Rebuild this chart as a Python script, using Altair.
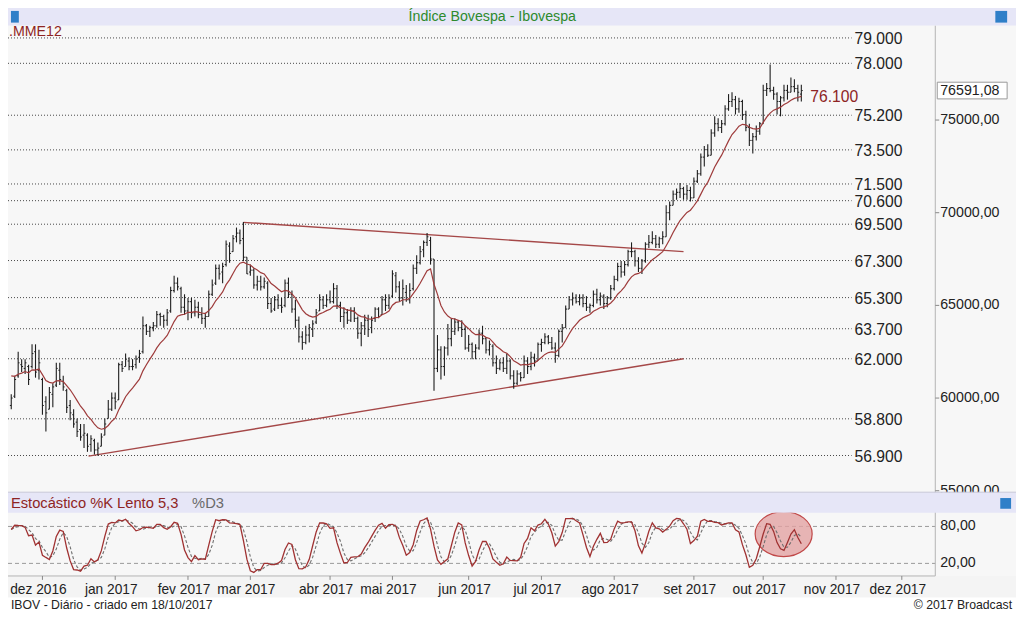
import altair as alt
import pandas as pd

W, H = 1008, 605
SX, SY = W / 1024, H / 621
def X(r): return round(r * SX, 2)
def Y(r): return round(r * SY, 2)
FS = 0.98
FONT = "Liberation Sans"

# ---------------- data (thousands of points), trading day 0 = 18/11/2016 ----------------
opens = [59.6, 60.1, 61.2, 61.8, 61.6, 61.7, 61.7, 62.5, 61.5,
         61.0, 59.8, 59.4, 60.2, 60.7, 61.5, 60.9, 60.4, 59.6, 59.1, 58.7, 58.3, 58.0, 58.0, 57.5, 57.7, 57.2, 57.4, 58.0, 58.6, 59.4,
         60.0, 59.8, 61.8, 61.7, 62.0, 61.7, 61.8, 62.2, 62.5, 63.9, 63.6, 63.8, 63.9, 64.5, 64.4, 64.2, 64.7, 65.8, 66.2, 65.9, 64.9,
         64.7, 65.2, 64.6, 64.9, 64.5, 64.3, 64.4, 65.6, 66.2, 67.0, 66.8, 67.2, 68.2, 67.9, 68.7, 68.9, 68.6, 67.6,
         66.8, 66.9, 66.1, 66.3, 66.0, 66.2, 65.1, 64.8, 65.3, 65.0, 65.0, 66.2, 65.6, 64.8, 64.2, 63.3, 63.0, 63.4, 63.7, 64.1, 64.7, 65.3, 65.0,
         65.3, 65.2, 65.9, 65.0, 64.4, 64.6, 64.2, 64.7, 64.3, 63.5, 63.9, 64.2, 63.8, 64.3, 64.8, 64.5, 65.3, 65.0,
         65.5, 66.6, 66.0, 65.4, 65.7, 65.3, 65.9, 67.0, 67.3, 68.0, 68.4, 68.5, 67.5, 61.6, 62.6, 61.7, 62.7, 63.2, 63.6, 64.1, 63.8, 63.7,
         62.7, 62.9, 62.5, 62.7, 63.5, 63.2, 62.6, 62.8, 61.9, 61.6, 61.9, 61.6, 62.0, 61.2, 60.8, 61.3, 61.1, 62.0, 61.7, 62.2, 62.0,
         62.9, 63.0, 63.3, 63.0, 62.7, 62.3, 63.6, 63.8, 64.8, 65.3, 65.4, 65.2, 65.4, 65.1, 64.9, 65.0, 65.6, 65.3, 65.5, 65.1, 65.4,
         65.9, 66.4, 67.1, 66.8, 67.2, 67.9, 67.9, 67.4, 67.0, 67.4, 68.3, 68.4, 68.6, 68.3, 68.6, 68.7, 70.0, 70.4, 71.0, 71.1, 71.3, 71.0, 71.2,
         70.8, 71.7, 72.1, 73.0, 73.4, 73.1, 74.3, 74.8, 74.6, 74.8, 75.6, 76.0, 76.1, 75.6, 76.0, 75.3, 74.6, 73.9, 74.1, 74.4,
         74.8, 76.6, 76.7, 76.6, 76.4, 76.0, 76.2, 76.6, 76.5, 76.8, 76.7, 76.4]
highs = [60.2, 61.2, 62.5, 62.1, 62.1, 61.8, 62.9, 62.9, 62.6,
         61.1, 60.1, 60.6, 60.8, 61.9, 61.9, 61.2, 60.5, 59.9, 59.4, 58.9, 58.6, 58.6, 58.1, 58.0, 57.8, 57.6, 58.1, 58.9, 59.9, 60.3,
         60.3, 61.9, 62.0, 62.4, 62.2, 62.1, 62.3, 62.6, 64.4, 64.0, 63.9, 64.1, 64.7, 64.6, 64.5, 64.8, 66.0, 66.6, 66.5, 66.0, 65.6,
         65.4, 65.4, 65.3, 65.2, 64.9, 64.6, 65.8, 66.4, 67.2, 67.2, 67.3, 68.5, 68.4, 68.8, 69.2, 69.1, 69.5, 67.6,
         67.2, 67.0, 66.6, 66.6, 66.5, 66.3, 65.4, 65.5, 65.6, 65.4, 66.4, 66.5, 65.8, 65.3, 64.4, 63.6, 63.9, 64.0, 64.2, 64.8, 65.6, 65.5, 65.6,
         65.8, 66.2, 66.1, 65.2, 64.9, 64.8, 64.9, 64.9, 64.4, 64.1, 64.5, 64.5, 64.4, 64.9, 64.9, 65.5, 65.6, 65.6,
         66.9, 66.8, 66.3, 66.4, 66.1, 66.2, 67.2, 67.7, 68.2, 68.5, 68.9, 68.7, 67.5, 63.4, 62.8, 62.8, 64.0, 64.3, 64.3, 64.2, 64.2, 63.9,
         63.4, 63.0, 62.9, 63.7, 63.9, 63.3, 63.1, 62.9, 62.3, 62.1, 62.2, 62.4, 62.1, 61.5, 61.5, 61.4, 62.3, 62.2, 62.5, 62.4, 63.0,
         63.2, 63.5, 63.4, 63.3, 63.0, 63.7, 64.0, 65.0, 65.5, 65.7, 65.6, 65.6, 65.6, 65.5, 65.1, 65.8, 65.9, 65.7, 65.6, 65.5, 66.1,
         66.6, 67.3, 67.4, 67.4, 68.0, 68.4, 68.0, 67.6, 67.5, 68.4, 68.8, 69.0, 68.8, 68.7, 69.0, 70.4, 70.6, 71.2, 71.3, 71.6, 71.4, 71.5, 71.4,
         71.9, 72.3, 73.2, 73.6, 73.7, 74.5, 75.2, 75.1, 75.0, 75.8, 76.4, 76.5, 76.3, 76.2, 76.1, 75.5, 74.8, 74.3, 74.7, 74.9,
         76.9, 77.0, 78.0, 76.8, 76.5, 76.3, 76.9, 76.9, 77.3, 77.2, 76.9, 76.9]
lows = [59.4, 60.0, 61.1, 61.4, 61.3, 60.7, 61.6, 61.1, 61.0,
        59.1, 58.2, 59.4, 59.5, 60.6, 60.7, 60.4, 59.2, 58.8, 58.4, 57.9, 57.7, 57.3, 57.1, 57.1, 56.95, 56.9, 57.4, 58.0, 58.9, 59.3,
        59.4, 59.9, 61.4, 61.7, 61.5, 61.5, 61.6, 61.9, 62.4, 63.4, 63.3, 63.6, 63.8, 63.9, 63.8, 63.9, 64.6, 65.7, 65.8, 64.6, 64.5,
        64.2, 64.3, 64.4, 64.3, 64.0, 63.8, 64.4, 65.5, 66.1, 66.4, 66.2, 67.1, 67.3, 67.9, 68.4, 68.3, 67.4, 66.7,
        66.6, 65.9, 65.8, 65.8, 65.9, 64.8, 64.6, 64.7, 64.8, 64.6, 64.9, 65.4, 64.6, 63.8, 63.0, 62.6, 62.9, 63.0, 63.3, 64.0, 64.7, 64.8, 64.9,
        65.1, 65.1, 64.8, 64.1, 63.8, 64.0, 64.1, 64.1, 63.2, 62.8, 63.4, 63.3, 63.5, 64.1, 64.3, 64.5, 64.7, 64.8,
        65.4, 65.7, 65.2, 65.0, 65.2, 65.1, 65.8, 66.7, 67.2, 67.6, 68.2, 67.2, 60.4, 61.4, 61.0, 61.2, 62.3, 62.8, 63.4, 63.6, 63.3, 62.6,
        62.5, 62.1, 62.1, 62.6, 62.9, 62.4, 62.3, 61.7, 61.3, 61.5, 61.4, 61.3, 61.0, 60.5, 60.7, 60.9, 61.1, 61.3, 61.5, 61.7, 62.0,
        62.5, 62.9, 62.9, 62.6, 61.9, 62.2, 63.0, 63.8, 64.8, 65.0, 65.1, 65.0, 64.9, 64.7, 64.6, 64.9, 65.1, 65.0, 64.8, 64.9, 65.3,
        65.8, 66.3, 66.5, 66.6, 67.1, 67.6, 67.1, 66.8, 66.7, 67.3, 68.1, 68.3, 68.1, 68.1, 68.3, 68.7, 69.6, 70.4, 70.7, 70.8, 70.7, 70.7, 70.6,
        70.8, 71.6, 72.0, 72.5, 73.0, 73.1, 74.1, 74.4, 74.3, 74.7, 75.5, 75.7, 75.3, 75.4, 75.0, 74.4, 73.6, 73.2, 73.9, 74.2,
        74.8, 76.3, 76.5, 76.1, 75.3, 75.2, 76.0, 76.1, 76.5, 76.5, 76.0, 76.0]
closes = [60.0, 61.0, 61.9, 61.7, 61.9, 61.0, 62.4, 61.4, 61.9,
          59.6, 59.2, 60.3, 60.6, 61.6, 61.0, 60.6, 59.5, 59.2, 58.6, 58.2, 57.9, 58.1, 57.4, 57.8, 57.2, 57.3, 57.9, 58.6, 59.4, 60.0,
          59.8, 61.8, 61.6, 62.1, 61.7, 61.7, 62.1, 62.4, 63.9, 63.6, 63.8, 63.9, 64.5, 64.4, 64.2, 64.6, 65.8, 66.2, 66.0, 64.9, 64.7,
          65.2, 64.6, 64.9, 64.5, 64.3, 64.4, 65.6, 66.1, 67.0, 66.7, 67.1, 68.3, 67.8, 68.6, 68.9, 68.5, 67.6, 66.7,
          66.9, 66.1, 66.3, 66.0, 66.3, 65.1, 64.7, 65.3, 65.0, 64.9, 66.2, 65.6, 64.8, 64.2, 63.3, 63.0, 63.4, 63.8, 64.0, 64.6, 65.3, 65.0, 65.3,
          65.2, 65.9, 65.0, 64.4, 64.6, 64.2, 64.7, 64.3, 63.5, 63.9, 64.2, 63.7, 64.2, 64.8, 64.4, 65.3, 65.0, 65.4,
          66.7, 66.0, 65.4, 65.9, 65.3, 65.8, 67.0, 67.3, 67.9, 68.4, 68.7, 67.5, 61.6, 62.6, 61.7, 62.7, 63.2, 63.6, 64.1, 63.8, 63.7, 62.7,
          62.9, 62.5, 62.7, 63.5, 63.2, 62.6, 62.9, 61.9, 61.6, 61.9, 61.6, 62.0, 61.2, 60.8, 61.3, 61.1, 62.0, 61.7, 62.2, 62.0, 62.9,
          63.0, 63.3, 63.0, 62.7, 62.3, 63.6, 63.8, 64.8, 65.3, 65.4, 65.2, 65.4, 65.1, 64.9, 65.0, 65.6, 65.3, 65.5, 65.1, 65.4, 65.9,
          66.4, 67.1, 66.8, 67.2, 67.9, 67.9, 67.4, 67.0, 67.4, 68.3, 68.4, 68.6, 68.3, 68.6, 68.7, 70.0, 70.4, 71.0, 71.1, 71.3, 71.0, 71.2, 70.8,
          71.7, 72.1, 73.0, 73.4, 73.1, 74.3, 74.8, 74.6, 74.8, 75.6, 76.0, 76.1, 75.6, 76.0, 75.3, 74.6, 73.9, 74.1, 74.4, 74.8,
          76.6, 76.7, 76.6, 76.4, 76.0, 76.2, 76.6, 76.5, 76.8, 76.7, 76.5, 76.59108]
ema_start = 61.2   # MME12 value read at the left edge

month_idx = [9, 30, 51, 69, 92, 110, 132, 153, 174, 197, 217, 238, 257]
month_lbl = ["dez 2016", "jan 2017", "fev 2017", "mar 2017", "abr 2017", "mai 2017", "jun 2017",
             "jul 2017", "ago 2017", "set 2017", "out 2017", "nov 2017", "dez 2017"]

level_price = [79430, 78060, 75260, 73390, 71550, 70650, 69380, 67420, 65420, 63740, 62120, 58880, 56900]
level_text = ["79.000", "78.000", "75.200", "73.500", "71.500", "70.600", "69.500",
              "67.300", "65.300", "63.700", "62.000", "58.800", "56.900"]

trend_i0 = [67, 22.3]
trend_p0 = [69480, 56870]
trend_i1 = [194, 194]
trend_p1 = [67900, 62120]

price_ticks = [55000, 60000, 65000, 70000, 75000]
price_tick_text = ["55000,00", "60000,00", "65000,00", "70000,00", "75000,00"]
stoch_ticks = [80, 20]
stoch_tick_text = ["80,00", "20,00"]

# ---------------- table ----------------
n = len(closes)
df = pd.DataFrame({"i": list(range(n)),
                   "o": [v * 1000 for v in opens], "h": [v * 1000 for v in highs],
                   "l": [v * 1000 for v in lows], "c": [v * 1000 for v in closes]})
df["o"] = df[["o", "l"]].max(axis=1)
df["o"] = df[["o", "h"]].min(axis=1)
df["io"] = df["i"] - 0.4
df["ic"] = df["i"] + 0.4
ema = [ema_start * 1000]
for c in df["c"].tolist()[1:]:
    ema.append(ema[-1] + 2.0 / 13.0 * (c - ema[-1]))
df["ema"] = ema
ll = df["l"].rolling(5, min_periods=1).min()
hh = df["h"].rolling(5, min_periods=1).max()
fast = 100 * (df["c"] - ll) / (hh - ll)
df["k"] = fast.rolling(3, min_periods=1).mean()
df["d"] = df["k"].rolling(3, min_periods=1).mean()

months = pd.DataFrame({"i": month_idx, "lbl": month_lbl})
levels = pd.DataFrame({"p": level_price, "t": level_text})
trends = pd.DataFrame({"i0": trend_i0, "p0": trend_p0, "i1": trend_i1, "p1": trend_p1})
pticks = pd.DataFrame({"p": price_ticks, "t": price_tick_text})
sticks = pd.DataFrame({"s": stoch_ticks, "t": stoch_tick_text})
last = df.tail(1).copy()
last["t"] = "76591,08"
last["ptop"] = last["c"] + 450
last["pbot"] = last["c"] - 450
ema_lbl = pd.DataFrame({"i": [228], "p": [76250], "t": ["76.100"]})
ell = pd.DataFrame({"i": [222.9], "s": [67.6]})
ONE = pd.DataFrame({"k": [0]})

xs = alt.Scale(domain=[0, 257], range=[X(3.3), X(908)], nice=False, zero=False)
ys = alt.Scale(domain=[55000, 75000], range=[Y(495.5), Y(115)], nice=False, zero=False)
ss = alt.Scale(domain=[0, 100], range=[Y(582.7), Y(519.5)], nice=False, zero=False)

def xq(f): return alt.X(f, type="quantitative", scale=xs, axis=None)
def yq(f): return alt.Y(f, type="quantitative", scale=ys, axis=None)
def sq(f): return alt.Y(f, type="quantitative", scale=ss, axis=None)

def box(x0, x1, y0, y1, fill, stroke=None):
    kw = {"fill": fill}
    if stroke:
        kw["stroke"] = stroke
        kw["strokeWidth"] = 1
    return alt.Chart(ONE).mark_rect(**kw).encode(
        x=alt.value(X(x0)), x2=alt.value(X(x1)), y=alt.value(Y(y0)), y2=alt.value(Y(y1)))

def label(txt, x, y, size, color, align="left", weight="normal"):
    return alt.Chart(ONE).mark_text(text=txt, font=FONT, fontSize=size * FS, color=color,
                                    align=align, baseline="middle", fontWeight=weight).encode(
        x=alt.value(X(x)), y=alt.value(Y(y)))

BAR = "#1e1e1e"
RED = "#9e3b3b"
BAND = "#e6e6f7"

layers = []
layers.append(box(0, 1024, 583, 605, "#f4f4f4"))
layers.append(box(0, 1024, 605, 621, "#ffffff"))

# level lines
layers.append(alt.Chart(levels).mark_rule(color="#4a4a4a", strokeWidth=1, strokeDash=[1, 2]).encode(
    y=yq("p"), x=alt.value(0), x2=alt.value(X(857))))
# stochastic 80/20
layers.append(alt.Chart(sticks).mark_rule(color="#9a9a9a", strokeWidth=1, strokeDash=[4, 3]).encode(
    y=sq("s"), x=alt.value(0), x2=alt.value(X(942))))
# trend lines
layers.append(alt.Chart(trends).mark_rule(color="#a54848", strokeWidth=1.4).encode(
    x=xq("i0"), x2="i1:Q", y=yq("p0"), y2="p1:Q"))
# OHLC bars
layers.append(alt.Chart(df).mark_rule(color=BAR, strokeWidth=1.1).encode(x=xq("i"), y=yq("l"), y2="h:Q"))
layers.append(alt.Chart(df).mark_rule(color=BAR, strokeWidth=1).encode(x=xq("io"), x2="i:Q", y=yq("o")))
layers.append(alt.Chart(df).mark_rule(color=BAR, strokeWidth=1).encode(x=xq("i"), x2="ic:Q", y=yq("c")))
# MME12
layers.append(alt.Chart(df).mark_line(color=RED, strokeWidth=1.2).encode(x=xq("i"), y=yq("ema")))
# highlight ellipse
ELL = ("M -1 0 C -1 -0.436 -0.552 -0.79 0 -0.79 C 0.552 -0.79 1 -0.436 1 0 "
       "C 1 0.436 0.552 0.79 0 0.79 C -0.552 0.79 -1 0.436 -1 0 Z")
layers.append(alt.Chart(ell).mark_point(shape=ELL, size=57 * 57, filled=True, fill="#e2a3a3", fillOpacity=0.8,
                                        stroke="#c04848", strokeWidth=1.2, strokeOpacity=1).encode(
    x=xq("i"), y=sq("s")))
# stochastic lines
layers.append(alt.Chart(df).mark_line(color="#6e6e6e", strokeWidth=1.1, strokeDash=[3, 2]).encode(x=xq("i"), y=sq("d")))
layers.append(alt.Chart(df).mark_line(color="#a03232", strokeWidth=1.3).encode(x=xq("i"), y=sq("k")))

# axis line and price axis
layers.append(alt.Chart(ONE).mark_rule(color="#b4b4b4", strokeWidth=1).encode(
    x=alt.value(X(942)), y=alt.value(Y(18)), y2=alt.value(Y(583))))
layers.append(alt.Chart(pticks).mark_rule(color="#888888").encode(
    y=yq("p"), x=alt.value(X(942)), x2=alt.value(X(946))))
layers.append(alt.Chart(pticks).mark_text(font=FONT, fontSize=14.5 * FS, color="#222222", align="left",
                                          baseline="middle").encode(
    y=yq("p"), x=alt.value(X(947)), text="t:N"))
layers.append(alt.Chart(last).mark_rect(fill="#ffffff", stroke="#9a9a9a", strokeWidth=1).encode(
    y=yq("ptop"), y2="pbot:Q", x=alt.value(X(944)), x2=alt.value(X(1015))))
layers.append(alt.Chart(last).mark_text(font=FONT, fontSize=14.5 * FS, color="#222222", align="left",
                                        baseline="middle").encode(
    y=yq("c"), x=alt.value(X(947)), text="t:N"))
# level labels
layers.append(alt.Chart(levels).mark_text(font=FONT, fontSize=16 * FS, color="#222222", align="left",
                                          baseline="middle", dy=1).encode(
    y=yq("p"), x=alt.value(X(860)), text="t:N"))
layers.append(alt.Chart(ema_lbl).mark_text(font=FONT, fontSize=16 * FS, color="#8e2424", align="left",
                                           baseline="middle", dx=9).encode(
    x=xq("i"), y=yq("p"), text="t:N"))

# header bars
layers.append(box(0, 1024, 0, 18, BAND))
layers.append(box(0, 1024, 497, 518, BAND))
layers.append(alt.Chart(ONE).mark_rule(color="#c8c8d8").encode(
    x=alt.value(0), x2=alt.value(X(1024)), y=alt.value(Y(497))))
layers.append(box(3, 11, 3, 15, "#2f7fc8"))
layers.append(box(1003, 1015, 3, 15, "#2f7fc8"))
layers.append(box(1008, 1019, 503, 514, "#2f7fc8"))
layers.append(label("Índice Bovespa - Ibovespa", 492, 9.5, 14.5, "#2d8a2d", align="center"))
layers.append(label(".MME12", 1, 25, 14.5, "#8e2424"))
layers.append(label("Estocástico %K Lento 5,3", 3, 509, 15, "#8e2424"))
layers.append(label("%D3", 187, 509, 15, "#6a6a6a"))

# stochastic axis
layers.append(alt.Chart(ONE).mark_rule(color="#b4b4b4").encode(
    x=alt.value(0), x2=alt.value(X(942)), y=alt.value(Y(583))))
layers.append(alt.Chart(sticks).mark_text(font=FONT, fontSize=14.5 * FS, color="#222222", align="left",
                                          baseline="middle").encode(
    y=sq("s"), x=alt.value(X(947)), text="t:N"))
# month axis
layers.append(alt.Chart(months).mark_rule(color="#888888").encode(
    x=xq("i"), y=alt.value(Y(583)), y2=alt.value(Y(587))))
layers.append(alt.Chart(months).mark_text(font=FONT, fontSize=14 * FS, color="#222222", align="center",
                                          baseline="middle", dx=-4).encode(
    x=xq("i"), y=alt.value(Y(597)), text="lbl:N"))

layers.append(label("IBOV - Diário - criado em 18/10/2017", 3, 613, 12.5, "#222222"))
layers.append(label("© 2017 Broadcast", 1020, 613, 12.5, "#222222", align="right"))

chart = alt.layer(*layers).resolve_scale(x="independent", y="independent").properties(
    width=W, height=H, autosize=alt.AutoSizeParams(type="none"), padding=0, background="#f7f7f7"
).configure_view(stroke=None)

chart.save("out.html", embed_options={"renderer": "svg", "actions": False})
